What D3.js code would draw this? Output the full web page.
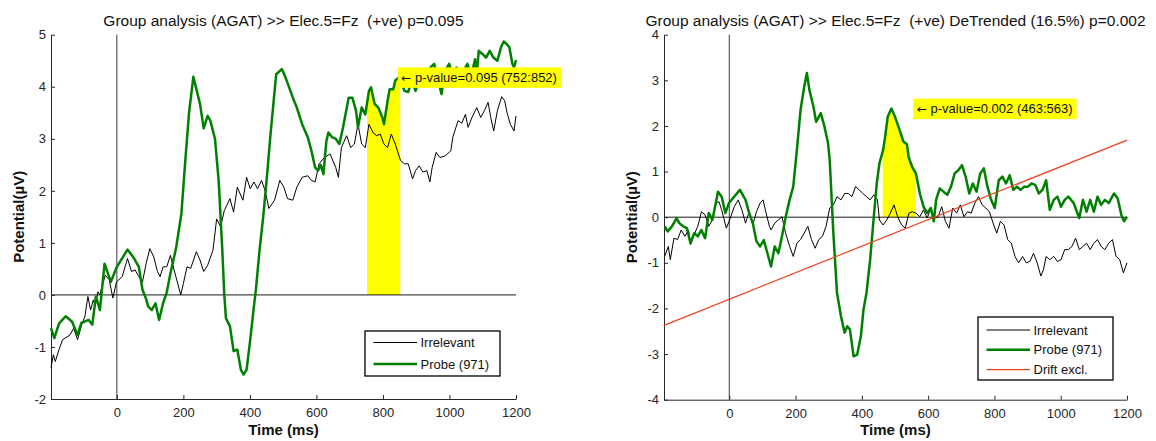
<!DOCTYPE html>
<html>
<head>
<meta charset="utf-8">
<script src="https://cdn.jsdelivr.net/npm/d3@7"></script>
<style>
  html, body { margin: 0; padding: 0; background: #ffffff; }
  svg text { font-family: "Liberation Sans", Arial, Helvetica, sans-serif; }
</style>
</head>
<body>
<svg id="chart" width="1156" height="441"></svg>
<script>
// ---- Left panel: raw averages (ms, µV) ----
const leftIrrTime = [-198,-191,-185,-174,-163,-141,-130,-118,-107,-96,-87,-79,-71,-65,-57,-51,-35,-23,-12,-1,16,32,44,55,66,77,88,99,111,122,130,139,150,161,172,183,192,200,211,222,239,250,261,273,289,300,312,323,340,351,362,379,390,401,412,423,435,446,457,474,490,502,513,529,541,557,574,585,596,608,624,641,658,666,675,691,703,714,725,736,747,758,770,781,792,803,814,825,837,853,865,876,889,898,909,920,932,941,948,960,971,987,1004,1010,1026,1037,1048,1056,1067,1082,1094,1105,1116,1124,1133,1144,1157,1166,1173,1183,1194,1200];
const leftIrr = [-1.4,-1.15,-1.28,-1.05,-0.86,-0.77,-0.64,-0.86,-0.6,-0.41,-0.03,-0.29,-0.1,-0.2,0.06,0.0,0.38,0.29,-0.06,0.25,0.35,0.7,0.45,0.48,0.35,0.25,0.6,0.89,0.73,0.45,0.35,0.54,0.54,0.76,0.48,0.22,0.0,0.22,0.54,0.51,0.83,0.67,0.45,0.57,0.86,1.46,1.31,1.62,1.85,1.59,2.07,1.82,2.26,2.04,2.17,2.04,2.2,2.0,1.66,1.82,2.2,2.07,1.85,1.82,2.07,2.26,2.29,2.2,2.17,2.52,2.64,2.71,2.45,2.26,2.83,3.06,2.83,2.9,3.28,2.9,2.83,3.28,3.12,3.06,3.09,2.9,2.83,3.09,2.9,2.58,2.52,2.52,2.23,2.39,2.48,2.36,2.39,2.17,2.45,2.74,2.64,2.67,2.77,3.03,3.35,3.3,3.47,3.22,3.4,3.6,3.41,3.54,3.7,3.41,3.15,3.54,3.81,3.73,3.5,3.28,3.15,3.44];

const leftProbeTime = [-198,-188,-174,-154,-135,-118,-107,-85,-74,-63,-51,-37,-18,0,32,49,66,77,88,94,105,116,127,139,150,161,178,194,206,217,230,250,261,273,281,295,306,317,323,328,340,351,362,373,381,390,401,412,418,429,440,451,462,479,496,507,529,541,557,574,585,596,605,613,621,630,636,647,658,669,680,697,708,719,725,736,747,758,764,775,786,798,803,814,820,831,837,848,865,876,887,898,915,932,943,954,963,976,987,999,1010,1021,1032,1043,1054,1065,1077,1082,1088,1099,1110,1121,1132,1144,1155,1163,1172,1180,1189,1194,1200];
const leftProbe = [-0.64,-0.83,-0.55,-0.41,-0.51,-0.77,-0.54,-0.48,-0.57,-0.03,-0.29,0.6,0.25,0.54,0.87,0.73,0.54,0.1,-0.08,-0.22,-0.29,-0.16,-0.48,-0.16,0.05,0.41,0.9,1.56,2.6,3.5,4.19,3.67,3.2,3.44,3.35,3.0,2.2,0.86,0.0,-0.45,-0.6,-1.08,-1.05,-1.44,-1.53,-1.44,-0.86,-0.22,0.1,0.86,1.5,2.26,3.09,4.24,4.34,4.18,3.79,3.6,3.28,3.03,2.77,2.45,2.39,2.5,2.32,2.96,3.12,3.03,3.0,2.9,3.22,3.79,3.79,3.54,3.22,3.6,3.47,3.92,3.99,3.67,3.6,3.41,3.28,3.73,3.95,3.95,4.12,4.18,3.92,3.9,4.12,3.92,4.24,4.24,4.37,4.44,4.2,3.86,4.31,4.44,4.2,4.37,4.2,4.31,4.44,4.2,4.53,4.24,4.69,4.63,4.56,4.69,4.56,4.5,4.76,4.87,4.82,4.76,4.44,4.37,4.51];

// ---- Right panel: detrended averages (ms, µV) ----
const rightIrrTime = [-195,-184,-178,-167,-156,-145,-134,-123,-117,-106,-95,-84,-73,-62,-51,-40,-31,-23,-9,-1,15,27,38,49,60,71,82,93,102,110,121,126,137,148,159,170,182,193,204,215,226,237,248,259,270,281,292,303,314,325,337,348,359,370,381,392,403,414,425,436,447,453,464,475,486,497,508,520,531,542,552,563,575,586,597,608,619,630,641,652,663,674,686,697,708,719,730,741,752,763,774,785,796,807,818,829,840,851,862,873,885,896,907,918,929,940,948,956,967,979,990,1001,1012,1023,1034,1045,1056,1067,1078,1089,1100,1111,1122,1133,1145,1156,1167,1178,1189,1200];
const rightIrr = [-0.86,-0.64,-0.93,-0.46,-0.49,-0.28,-0.42,-0.28,-0.6,-0.38,-0.2,0.12,0.05,-0.2,-0.06,0.31,0.34,0.16,-0.24,-0.1,0.23,0.38,0.16,-0.13,0.12,-0.17,0.12,0.31,0.38,0.12,-0.2,-0.28,-0.13,-0.06,0.01,-0.35,-0.64,-0.86,-0.57,-0.49,-0.35,-0.2,-0.49,-0.68,-0.49,-0.42,-0.2,0.2,0.27,0.45,0.38,0.52,0.52,0.45,0.67,0.6,0.52,0.45,0.38,0.49,0.38,-0.06,-0.17,-0.06,0.09,0.27,0.01,-0.17,-0.24,0.09,0.12,0.09,0.01,0.16,-0.02,0.2,-0.02,0.01,0.23,-0.09,-0.24,0.2,0.09,0.27,0.01,0.12,0.09,0.31,0.45,0.27,0.2,0.12,-0.13,-0.35,-0.09,-0.17,-0.49,-0.57,-0.86,-1.0,-0.86,-1.0,-0.97,-0.79,-1.0,-1.29,-1.15,-0.86,-0.93,-0.86,-0.97,-0.93,-0.71,-0.71,-0.64,-0.46,-0.71,-0.64,-0.57,-0.71,-0.57,-0.49,-0.64,-0.71,-0.57,-0.49,-0.86,-0.93,-1.22,-1.0];

const rightProbeTime = [-195,-186,-173,-159,-151,-139,-128,-117,-106,-95,-84,-73,-62,-51,-34,-23,-12,-1,15,32,49,60,71,82,93,104,115,126,137,148,159,170,182,193,204,215,226,234,242,254,262,276,287,298,303,309,314,325,337,348,356,364,375,386,397,405,414,425,436,445,453,464,469,478,489,500,514,525,536,541,552,563,575,586,597,608,617,624,635,646,658,669,680,691,702,713,724,735,746,757,768,779,790,801,813,824,835,846,857,868,879,890,901,912,923,934,945,956,967,979,990,1001,1012,1023,1039,1056,1067,1078,1089,1100,1111,1122,1133,1145,1161,1172,1183,1191,1200];
const rightProbe = [-0.2,-0.31,-0.2,-0.02,-0.13,-0.2,-0.24,-0.57,-0.35,-0.42,-0.28,-0.46,0.09,-0.06,0.56,0.45,0.09,0.31,0.45,0.6,0.38,0.09,-0.13,-0.53,-0.64,-0.5,-0.79,-1.08,-0.64,-0.79,-0.42,0.0,0.38,0.67,1.48,2.35,2.86,3.16,2.78,2.42,2.09,2.28,1.99,1.62,1.25,0.38,-0.35,-1.66,-2.17,-2.53,-2.39,-2.46,-3.05,-3.01,-2.61,-2.02,-1.66,-0.93,0.01,0.74,1.18,1.47,1.7,2.2,2.38,2.2,1.91,1.66,1.6,1.32,1.1,0.96,0.52,0.23,0.09,0.2,-0.09,0.38,0.63,0.56,0.49,0.67,0.96,1.03,1.14,0.89,0.52,0.74,0.56,0.96,1.07,0.67,0.38,0.2,0.81,0.89,0.74,0.92,0.6,0.67,0.6,0.67,0.67,0.74,0.71,0.52,0.6,0.81,0.16,0.38,0.45,0.23,0.38,0.45,0.31,-0.02,0.38,0.12,0.38,0.12,0.45,0.27,0.38,0.31,0.52,0.41,0.05,-0.09,0.01];

// Linear drift removed from the right panel
const driftTime = [-197, 1200];
const driftValue = [-2.37, 1.69];

// Significance windows (ms) and their p-values
const leftWindow = [752, 852];
const rightWindow = [463, 563];
const leftP = "0.095";
const rightP = "0.002";

// Axis ticks
const xTicks = [0, 200, 400, 600, 800, 1000, 1200];
const leftYTicks = [-2, -1, 0, 1, 2, 3, 4, 5];
const rightYTicks = [-4, -3, -2, -1, 0, 1, 2, 3, 4];

// Titles and legend labels
const leftTitle = "Group analysis (AGAT) >> Elec.5=Fz  (+ve) p=" + leftP;
const rightTitle = "Group analysis (AGAT) >> Elec.5=Fz  (+ve) DeTrended (16.5%) p=" + rightP;
const leftLegend = ["Irrelevant", "Probe (971)"];
const rightLegend = ["Irrelevant", "Probe (971)", "Drift excl."];

const COLORS = { irr: "#000000", probe: "#008000", drift: "#f2401e", axis: "#262626", sig: "#ffff00" };

const svg = d3.select("#chart");
svg.append("rect").attr("width", 1156).attr("height", 441).attr("fill", "#fff");

function zip(t, v) { return t.map((d, i) => ({ t: d, v: v[i] })); }

function valueAt(pts, t) {
  for (let i = 1; i < pts.length; i++) {
    if (pts[i].t >= t) {
      const a = pts[i - 1], b = pts[i];
      const f = (t - a.t) / (b.t - a.t);
      return a.v + f * (b.v - a.v);
    }
  }
  return pts[pts.length - 1].v;
}

function drawPanel(cfg) {
  const x = d3.scaleLinear().domain(cfg.xDomain).range(cfg.xRange);
  const y = d3.scaleLinear().domain(cfg.yDomain).range(cfg.yRange);
  const g = svg.append("g");
  const [x0, x1] = cfg.xRange;
  const [yb, yt] = cfg.yRange;

  const irr = zip(cfg.irrT, cfg.irrV);
  const probe = zip(cfg.probeT, cfg.probeV);

  // Significant window: area between zero and the probe curve
  const [w0, w1] = cfg.window;
  const winPts = [{ t: w0, v: valueAt(probe, w0) }]
    .concat(probe.filter(d => d.t > w0 && d.t < w1))
    .concat([{ t: w1, v: valueAt(probe, w1) }]);
  g.append("path")
    .datum(winPts)
    .attr("fill", COLORS.sig)
    .attr("d", d3.area().x(d => x(d.t)).y0(y(0)).y1(d => y(d.v)));

  // Zero reference lines
  g.append("line").attr("x1", x0).attr("x2", x1).attr("y1", y(0)).attr("y2", y(0))
    .attr("stroke", "#1a1a1a").attr("stroke-width", 1);
  g.append("line").attr("x1", x(0)).attr("x2", x(0)).attr("y1", yt).attr("y2", yb)
    .attr("stroke", "#3a3a3a").attr("stroke-width", 1);

  // Axes
  const yAxis = d3.axisLeft(y).tickValues(cfg.yTicks).tickFormat(d => String(d))
    .tickSizeInner(-4).tickSizeOuter(0).tickPadding(5);
  const xAxis = d3.axisBottom(x).tickValues(xTicks).tickFormat(d => String(d))
    .tickSizeInner(-4).tickSizeOuter(0).tickPadding(9);
  const ya = g.append("g").attr("transform", `translate(${x0},0)`).call(yAxis);
  const xa = g.append("g").attr("transform", `translate(0,${yb})`).call(xAxis);
  [ya, xa].forEach(a => {
    a.attr("font-family", null).attr("font-size", null);
    a.selectAll("path, line").attr("stroke", COLORS.axis);
    a.selectAll("text").attr("fill", "#262626").style("font-size", "13px");
  });

  // Curves
  const line = d3.line().x(d => x(d.t)).y(d => y(d.v));
  g.append("path").datum(irr).attr("fill", "none").attr("stroke", COLORS.irr)
    .attr("stroke-width", 1).attr("stroke-linejoin", "round").attr("d", line);
  g.append("path").datum(probe).attr("fill", "none").attr("stroke", COLORS.probe)
    .attr("stroke-width", 2.5).attr("stroke-linejoin", "round").attr("d", line);
  if (cfg.drift) {
    g.append("path").datum(zip(cfg.drift[0], cfg.drift[1])).attr("fill", "none")
      .attr("stroke", COLORS.drift).attr("stroke-width", 1.2).attr("d", line);
  }

  // p-value annotation placed at the window end, at the probe peak
  const peak = d3.max(winPts, d => d.v);
  const ax = x(w1), ay = y(peak);
  const ann = g.append("g");
  const annBg = ann.append("rect").attr("fill", COLORS.sig);
  const annText = ann.append("text")
    .attr("x", ax + 1).attr("y", ay + 4.6)
    .style("font-size", "13px").style("white-space", "pre").attr("fill", "#111");
  annText.append("tspan").style("font-family", "'DejaVu Sans', sans-serif").style("font-size", "12px").text("\u2190");
  annText.append("tspan").text(" p-value=" + cfg.p + " (" + w0 + ":" + w1 + ")");
  const bb = annText.node().getBBox();
  annBg.attr("x", ax - 2.5).attr("y", ay - 10).attr("width", bb.width + 7.5).attr("height", 20.5);

  // Title and axis labels
  const cx = (x0 + x1) / 2;
  g.append("text").attr("x", cx).attr("y", 25.5).attr("text-anchor", "middle")
    .style("font-size", "15.5px").style("white-space", "pre").attr("fill", "#111").text(cfg.title);
  g.append("text").attr("x", cx).attr("y", 435).attr("text-anchor", "middle")
    .style("font-size", "15px").style("font-weight", "bold").attr("fill", "#111").text("Time (ms)");
  g.append("text").attr("transform", `translate(${x0 - 27},${(yt + yb) / 2}) rotate(-90)`)
    .attr("text-anchor", "middle").style("font-size", "15px").style("font-weight", "bold")
    .attr("fill", "#111").text("Potential(\u00b5V)");

  // Legend
  const L = cfg.legend;
  const lg = g.append("g").attr("transform", `translate(${L.x},${L.y})`);
  lg.append("rect").attr("width", L.w).attr("height", L.h)
    .attr("fill", "#fff").attr("stroke", "#000").attr("stroke-width", 1.3);
  const styles = [
    { c: COLORS.irr, w: 1 },
    { c: COLORS.probe, w: 2.5 },
    { c: COLORS.drift, w: 1.2 }
  ];
  L.labels.forEach((lab, i) => {
    const ry = L.top + i * L.gap;
    lg.append("line").attr("x1", 8.5).attr("x2", 52).attr("y1", ry).attr("y2", ry)
      .attr("stroke", styles[i].c).attr("stroke-width", styles[i].w);
    lg.append("text").attr("x", 55.5).attr("y", ry + 4.6).style("font-size", "13px")
      .attr("fill", "#111").text(lab);
  });
}

drawPanel({
  xDomain: [-198, 1200], xRange: [51, 516],
  yDomain: [-2, 5], yRange: [399, 34.7], yTicks: leftYTicks,
  irrT: leftIrrTime, irrV: leftIrr, probeT: leftProbeTime, probeV: leftProbe,
  window: leftWindow, p: leftP, title: leftTitle,
  legend: { x: 365, y: 331, w: 135, h: 45, top: 11.5, gap: 21.5, labels: leftLegend }
});

drawPanel({
  xDomain: [-197, 1200], xRange: [664, 1127],
  yDomain: [-4, 4], yRange: [399.7, 34.7], yTicks: rightYTicks,
  irrT: rightIrrTime, irrV: rightIrr, probeT: rightProbeTime, probeV: rightProbe,
  drift: [driftTime, driftValue],
  window: rightWindow, p: rightP, title: rightTitle,
  legend: { x: 978, y: 317, w: 135, h: 63, top: 13, gap: 19.8, labels: rightLegend }
});
</script>
</body>
</html>
